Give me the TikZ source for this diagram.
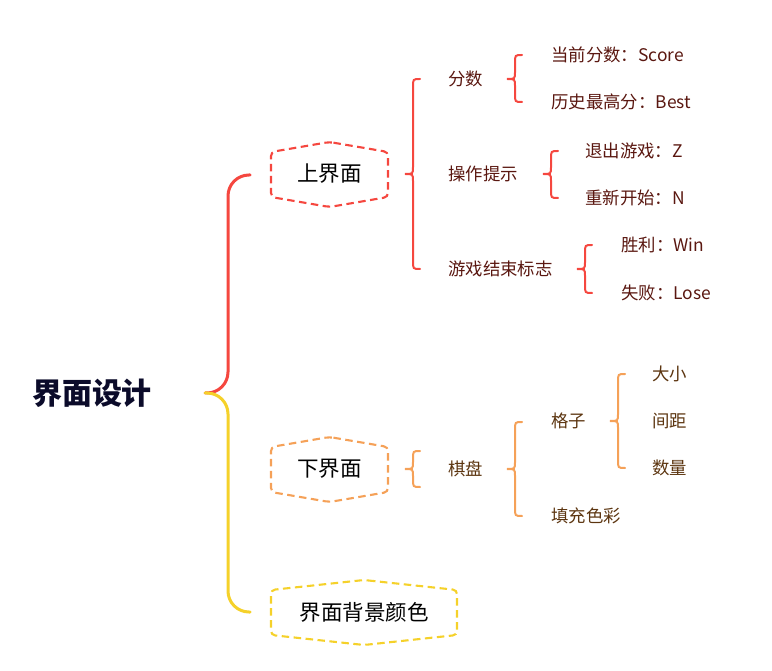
\documentclass[tikz,border=0pt]{standalone}
\usepackage{fontspec}
\setmainfont{Noto Sans CJK SC}
\definecolor{cred}{HTML}{F5473F}
\definecolor{corange}{HTML}{F5A158}
\definecolor{cyellow}{HTML}{F5D12A}
\definecolor{tred}{HTML}{5A1710}
\definecolor{torange}{HTML}{5C3510}
\definecolor{troot}{HTML}{0B0B2A}
\newcommand\mybrace[5]{% tipx, tipy, ytop, ybot, color
  \pgfmathsetmacro\mbrX{#1}\pgfmathsetmacro\mbrY{#2}%
  \pgfmathsetmacro\mbrV{#1+8}\pgfmathsetmacro\mbrE{#1+15}%
  \pgfmathsetmacro\mbrT{#3}\pgfmathsetmacro\mbrB{#4}%
  \pgfmathsetmacro\mbrA{#3+8}\pgfmathsetmacro\mbrP{#2-7}%
  \pgfmathsetmacro\mbrQ{#2+7}\pgfmathsetmacro\mbrD{#4-8}%
  \draw[bracestyle,#5] (\mbrE,\mbrT) .. controls (\mbrV,\mbrT) .. (\mbrV,\mbrA) -- (\mbrV,\mbrP)
     .. controls (\mbrV,\mbrY) .. (\mbrX,\mbrY) .. controls (\mbrV,\mbrY) .. (\mbrV,\mbrQ)
     -- (\mbrV,\mbrD) .. controls (\mbrV,\mbrB) .. (\mbrE,\mbrB);}
\newcommand\myhex[5]{% cx, cy, halfwidth, color, name
  \pgfmathsetmacro\hxL{#1-#3}\pgfmathsetmacro\hxR{#1+#3}%
  \pgfmathsetmacro\hxT{#2-32}\pgfmathsetmacro\hxTC{#2-22}%
  \pgfmathsetmacro\hxBC{#2+23}\pgfmathsetmacro\hxB{#2+33}%
  \draw[hexstyle,#4] (#1,\hxT) -- (\hxR,\hxTC) -- (\hxR,\hxBC) -- (#1,\hxB) -- (\hxL,\hxBC) -- (\hxL,\hxTC) -- cycle;}
\begin{document}
\begin{tikzpicture}[x=1pt,y=-1pt,
  bracestyle/.style={line width=2pt,line cap=round},
  mainbrace/.style={line width=3pt,line cap=round,rounded corners=21pt},
  hexstyle/.style={line width=2.1pt,dash pattern=on 7.5pt off 4.5pt,rounded corners=4pt},
  leafr/.style={anchor=west,inner sep=0pt,font=\fontsize{17.4}{20}\selectfont,text=tred},
  leafo/.style={anchor=west,inner sep=0pt,font=\fontsize{17.4}{20}\selectfont,text=torange},
  boxlabel/.style={inner sep=0pt,font=\fontsize{21.5}{25}\selectfont,text=black},
  rootlabel/.style={inner sep=0pt,font=\fontsize{30}{34}\selectfont\bfseries,text=troot}]
\useasboundingbox (0,0) rectangle (772,671);
% root
\node[rootlabel] (root) at (92,393) {界面设计};
\coordinate (rootpt) at (205,393);
% main bracket
\coordinate (mtop) at (250,175);
\coordinate (mbot) at (250,612);
\draw[mainbrace,cred] (mtop) -- (228,175) -- (228,393) -- (rootpt);
\draw[mainbrace,cyellow] (rootpt) -- (228,393) -- (228,612) -- (mbot);
% level 1 boxes
\node[boxlabel] (top) at (329.5,174) {上界面};
\myhex{329.5}{174}{58.5}{cred}{tophex}
\node[boxlabel] (bottom) at (329.5,469) {下界面};
\myhex{329.5}{469}{58.5}{corange}{bothex}
\node[boxlabel] (bg) at (364,612) {界面背景颜色};
\myhex{364}{612}{93}{cyellow}{bghex}
% top branch
\mybrace{405}{174}{79}{269}{cred}
\node[leafr] (score) at (448,79) {分数};
\node[leafr] (hint) at (448,174) {操作提示};
\node[leafr] (over) at (448,269) {游戏结束标志};
\mybrace{507}{79}{55}{102}{cred}
\node[leafr] (cur) at (551,55) {当前分数：Score};
\node[leafr] (best) at (551,102) {历史最高分：Best};
\mybrace{543}{174}{151}{198}{cred}
\node[leafr] (quit) at (585,151) {退出游戏：Z};
\node[leafr] (restart) at (585,198) {重新开始：N};
\mybrace{577}{269}{245}{293}{cred}
\node[leafr] (win) at (621,245) {胜利：Win};
\node[leafr] (lose) at (621,293) {失败：Lose};
% bottom branch
\mybrace{405}{469}{451}{487}{corange}
\node[leafo] (board) at (448,469) {棋盘};
\mybrace{507}{469}{422}{516}{corange}
\node[leafo] (grid) at (551,421) {格子};
\node[leafo] (fill) at (551,516) {填充色彩};
\mybrace{610}{421}{374}{468}{corange}
\node[leafo] (size) at (652,374) {大小};
\node[leafo] (gap) at (652,421) {间距};
\node[leafo] (num) at (652,468) {数量};
\end{tikzpicture}
\end{document}
